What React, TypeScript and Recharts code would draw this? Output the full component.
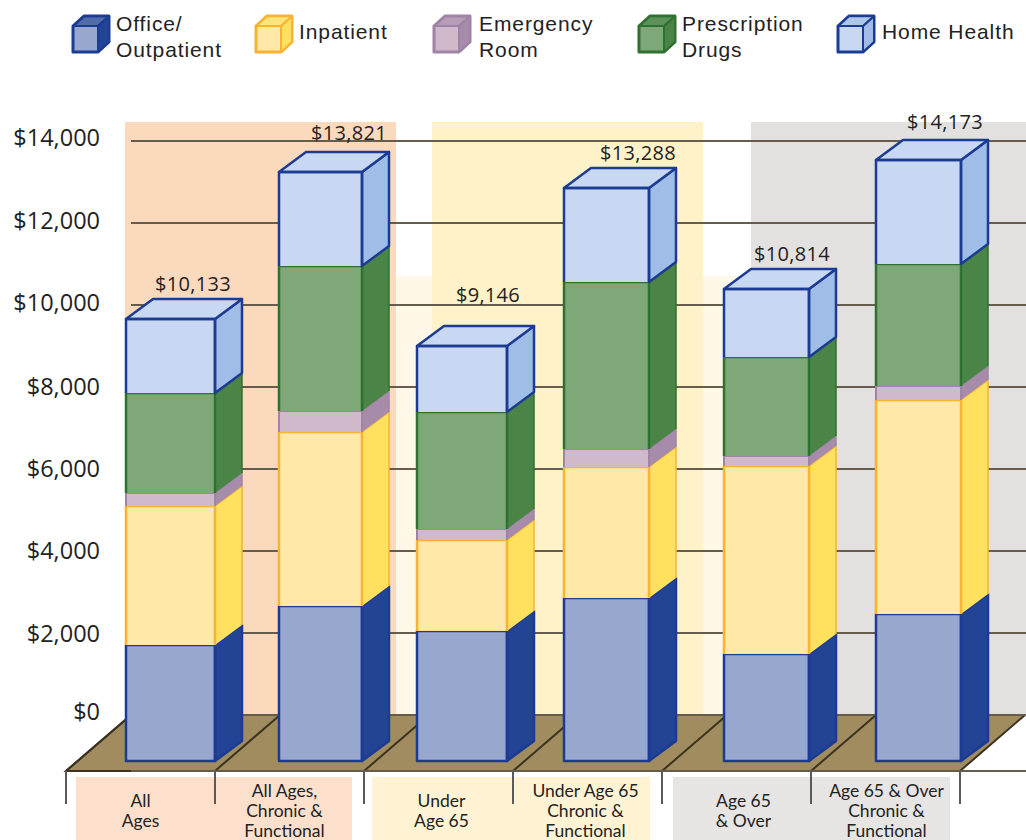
import React from "react";
import { Bar, BarChart, CartesianGrid, LabelList, Legend, XAxis, YAxis } from "recharts";

const categories = [
  "All\nAges",
  "All Ages,\nChronic &\nFunctional",
  "Under\nAge 65",
  "Under Age 65\nChronic &\nFunctional",
  "Age 65\n& Over",
  "Age 65 & Over\nChronic &\nFunctional",
];
const office = [2195, 3146, 2537, 3341, 1976, 2951];
const inpatient = [3390, 4244, 2219, 3196, 4585, 5220];
const emergency = [317, 512, 268, 439, 244, 341];
const prescription = [2439, 3537, 2854, 4073, 2415, 2976];
const homeHealth = [1805, 2293, 1610, 2292, 1658, 2536];
const totals = [10133, 13821, 9146, 13288, 10814, 14173];
const yTicks = [0, 2000, 4000, 6000, 8000, 10000, 12000, 14000];

const data = categories.map((name, i) => ({
  name,
  office: office[i],
  inpatient: inpatient[i],
  emergency: emergency[i],
  prescription: prescription[i],
  homeHealth: homeHealth[i],
  total: totals[i],
}));

const series = [
  { key: "office", name: "Office/\nOutpatient", front: "#98A7CE", side: "#234495", line: "#1C3B93", width: 2.5 },
  { key: "inpatient", name: "Inpatient", front: "#FFE8A8", side: "#FFE15F", line: "#F9B233", width: 2.5 },
  { key: "emergency", name: "Emergency\nRoom", front: "#CFB9CB", side: "#A68BAA", line: "#A084A6", width: 2 },
  { key: "prescription", name: "Prescription\nDrugs", front: "#7EA877", side: "#4A8447", line: "#2F7130", width: 2.5 },
  { key: "homeHealth", name: "Home Health", front: "#C9D8F2", side: "#A0BDE8", line: "#1C3B93", width: 2.5 },
];

// picture layout
const PLOT_LEFT = 66;
const BAND = 149;
const FLOOR_Y = 771;
const BACK_Y = 715;
const DEPTH_X = 27;
const DEPTH_Y = 20;
const BASE_DROP = 46;
const barShift = [28, 32, 21, 19, 30, 33];
const barGrow = [4, -2, 5, 0, 0, 0];
const totalShift = [52.5, 59.5, 49.5, 50.5, 55.5, 59.5];
const totalRise = [15, 19, 31, 15, 15, 18];
const tickShift = [0, -5, 3, -2, 7, 1];
const yLabelShift = [-3, 1, 0, 0, 0, -2, -2, -3];
const legendSpots = [
  { icon: 70, text: 116 },
  { icon: 253, text: 299 },
  { icon: 431, text: 479 },
  { icon: 636, text: 682 },
  { icon: 835, text: 882 },
];

const Block = (props: any, s: any, isBottom: boolean, isTop: boolean) => {
  const { x, y, width, height, index } = props;
  const left = x + barShift[index];
  const right = left + width + barGrow[index];
  const top = y + DEPTH_Y;
  const bottom = isBottom ? y + height + BASE_DROP : y + height + DEPTH_Y;
  return (
    <g strokeLinejoin="round">
      <rect x={left} y={top} width={right - left} height={bottom - top} fill={s.front} />
      <path
        d={`M${right},${bottom}L${right + DEPTH_X},${bottom - DEPTH_Y}L${right + DEPTH_X},${top - DEPTH_Y}L${right},${top}Z`}
        fill={s.side}
        stroke={isBottom || isTop ? s.line : "none"}
        strokeWidth={s.width}
      />
      {isTop && (
        <path
          d={`M${left},${top}L${left + DEPTH_X},${top - DEPTH_Y}L${right + DEPTH_X},${top - DEPTH_Y}L${right},${top}Z`}
          fill={s.front}
          stroke={s.line}
          strokeWidth={s.width}
        />
      )}
      <path
        d={`M${left},${bottom}L${left},${top}L${right},${top}L${right},${bottom}${isBottom ? "Z" : ""}`}
        fill="none"
        stroke={s.line}
        strokeWidth={s.width}
      />
      {!isBottom && !isTop && (
        <path d={`M${right + DEPTH_X},${bottom - DEPTH_Y}L${right + DEPTH_X},${top - DEPTH_Y}L${right},${top}`} fill="none" stroke={s.line} strokeWidth={1.5} />
      )}
    </g>
  );
};

const TotalLabel = (props: any) => {
  const { x, y, width, index, value } = props;
  return (
    <text
      x={x + width / 2 + totalShift[index]}
      y={y - totalRise[index] + 7}
      textAnchor="middle"
      fontFamily="'Open Sans'"
      fontSize={20}
      letterSpacing={0.3}
      fill="#222"
    >
      {"$" + Number(value).toLocaleString("en-US")}
    </text>
  );
};

const CategoryTick = (props: any) => {
  const { x, y, payload, index } = props;
  const lines = String(payload.value).split("\n");
  const first = y + 40 - ((lines.length - 1) * 20) / 2 + 6;
  return (
    <g>
      <line x1={x - BAND / 2} x2={x - BAND / 2} y1={y} y2={y + 33} stroke="#5A5A5A" strokeWidth={2} />
      {index === categories.length - 1 && (
        <line x1={x + BAND / 2} x2={x + BAND / 2} y1={y} y2={y + 33} stroke="#5A5A5A" strokeWidth={2} />
      )}
      <text textAnchor="middle" fontFamily="Lato" fontSize={17.5} fill="#222">
        {lines.map((l, i) => (
          <tspan key={i} x={x + tickShift[index]} y={first + i * 20}>
            {l}
          </tspan>
        ))}
      </text>
    </g>
  );
};

const ValueTick = (props: any) => {
  const { y, payload } = props;
  const i = yTicks.indexOf(payload.value);
  return (
    <text x={100} y={y + yLabelShift[i] + 8} textAnchor="end" fill="#222" fontSize={23.5} fontFamily="'Open Sans'">
      {"$" + Number(payload.value).toLocaleString("en-US")}
    </text>
  );
};

const LegendContent = ({ payload }: any) => (
  <div style={{ position: "absolute", left: 0, top: 0 }}>
    {(payload || []).map((item: any, i: number) => {
      const s = series[i];
      return (
        <React.Fragment key={s.key}>
          <svg width={42} height={42} style={{ position: "absolute", left: legendSpots[i].icon, top: 13 }}>
            <path d="M3,13L14,3L39,3L39,29L28,39L3,39Z" fill={s.front} stroke={s.line} strokeWidth={3} strokeLinejoin="round" />
            <path d="M28,13L39,3L39,29L28,39Z" fill={s.side} stroke={s.line} strokeWidth={2} strokeLinejoin="round" />
            <path d="M3,13L14,3L39,3L28,13Z" fill={s.side} fillOpacity={0.6} stroke={s.line} strokeWidth={2} strokeLinejoin="round" />
          </svg>
          <div
            style={{
              position: "absolute",
              left: legendSpots[i].text,
              top: item.value.includes("\n") ? 11 : 19,
              whiteSpace: "pre",
              font: "21px/26px 'Liberation Sans'",
              letterSpacing: 0.9,
              color: "#222",
            }}
          >
            {item.value}
          </div>
        </React.Fragment>
      );
    })}
  </div>
);

const Floor = () => {
  const right = PLOT_LEFT + BAND * categories.length;
  const backDx = 65;
  const edges = categories.map((_, i) => PLOT_LEFT + BAND * i);
  return (
    <g>
      <path d={`M${PLOT_LEFT},${FLOOR_Y}L${PLOT_LEFT + backDx},${BACK_Y}L${right + backDx},${BACK_Y}L${right},${FLOOR_Y}Z`} fill="#A08C5E" stroke="#3B3320" strokeWidth={2} />
      {edges.map((e) => (
        <line key={e} x1={e} y1={FLOOR_Y} x2={e + backDx} y2={BACK_Y} stroke="#3B3320" strokeWidth={2} />
      ))}
    </g>
  );
};

const GridLine = (props: any) =>
  props.y1 < 110 ? <g /> : <line x1={131} x2={1026} y1={props.y1} y2={props.y1} stroke="#665C4C" strokeWidth={2} />;

export default function App() {
  return (
    <div style={{ position: "absolute", left: 0, top: 0, width: 1026, height: 840, overflow: "hidden", background: "#fff" }}>
      <BarChart
        width={1026}
        height={840}
        data={data}
        margin={{ top: 100, right: 66, bottom: 0, left: 0 }}
        barSize={85}
      >
        <rect x={125} y={122} width={271} height={593} fill="#FBD9BC" />
        <rect x={396} y={276} width={36} height={439} fill="#FFF8E8" />
        <rect x={432} y={122} width={271} height={593} fill="#FFF2C9" />
        <rect x={703} y={276} width={48} height={439} fill="#FFF8E8" />
        <rect x={751} y={122} width={275} height={593} fill="#E2E1DF" />
        <rect x={76} y={777} width={276} height={63} fill="#FCE0CC" />
        <rect x={372} y={777} width={278} height={63} fill="#FFF3D3" />
        <rect x={673} y={777} width={277} height={63} fill="#E6E5E4" />
        <Floor />
        <CartesianGrid vertical={false} horizontal={GridLine as any} zIndex={1} />
        <XAxis dataKey="name" height={69} interval={0} axisLine={false} tickLine={false} tickSize={0} tickMargin={0} tick={CategoryTick as any} />
        <YAxis
          width={66}
          domain={[-1366, 15000]}
          ticks={yTicks}
          axisLine={false}
          tickLine={false}
          tick={ValueTick as any}
        />
        <Legend
          verticalAlign="top"
          itemSorter={null}
          content={LegendContent as any}
          wrapperStyle={{ left: 0, top: 0, width: 0, height: 0 }}
        />
        {series.map((s, si) => (
          <Bar
            key={s.key}
            dataKey={s.key}
            name={s.name}
            stackId="spend"
            fill={s.front}
            isAnimationActive={false}
            shape={(p: any) => Block(p, s, si === 0, si === series.length - 1)}
          >
            {si === series.length - 1 && <LabelList dataKey="total" content={TotalLabel as any} />}
          </Bar>
        ))}
      </BarChart>
    </div>
  );
}
